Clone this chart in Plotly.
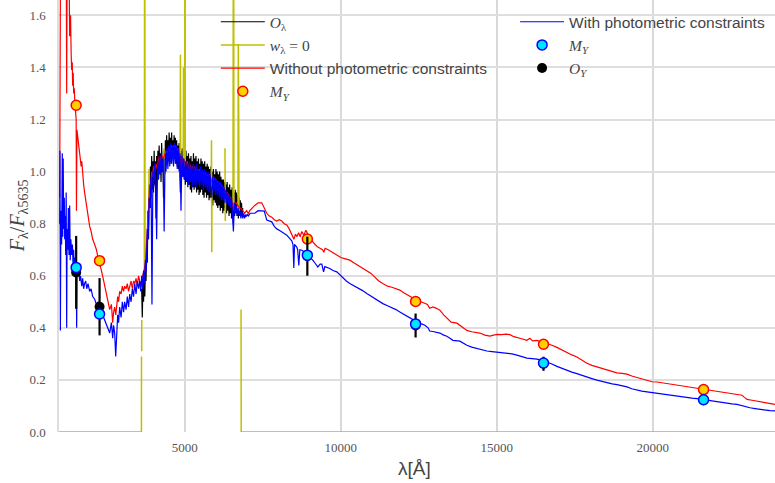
import plotly.graph_objects as go

# ---------------- data ----------------
# photometric bands: wavelength [A]
phot_wave = [1520, 2270, 8930, 12400, 16500, 21630]
# model photometry without constraints (red/orange dots)
my_red = [1.255, 0.658, 0.741, 0.501, 0.337, 0.163]
# model photometry with constraints (cyan dots)
my_cyan = [0.632, 0.453, 0.679, 0.415, 0.265, 0.124]
# observed photometry and errors
oy_flux = [0.613, 0.481, 0.675, 0.409, 0.262, 0.122]
oy_err = [0.14, 0.11, 0.075, 0.046, 0.027, 0.010]

# observed spectrum O_lambda (valid pixels), 20 A sampling from 3620 A
obs_start, obs_step = 3620, 20
obs_flux = [
    0.55, 0.44, 0.58, 0.50, 0.60, 0.52, 0.63, 0.58, 0.72, 0.65,
    0.85, 0.74, 0.95, 0.86, 1.02, 0.90, 1.06, 0.93, 1.04, 0.92,
    1.08, 0.95, 1.04, 0.82, 1.06, 0.96, 1.08, 0.97, 1.10, 0.99,
    1.07, 0.96, 1.11, 1.00, 1.05, 0.90, 1.08, 0.99, 1.12, 1.02,
    1.14, 1.03, 1.12, 1.04, 1.15, 1.05, 1.13, 1.03, 1.15, 1.05,
    1.12, 1.04, 1.14, 1.05, 1.13, 1.03, 1.12, 1.02, 1.10, 1.01,
    1.11, 1.00, 0.92, 1.08, 0.99, 1.09, 0.98, 1.07, 0.97, 1.06,
    0.95, 1.08, 0.96, 1.06, 0.94, 1.07, 0.95, 1.05, 0.93, 1.06,
    0.92, 1.04, 0.94, 1.07, 0.93, 1.05, 0.94, 1.06, 0.92, 1.04,
    0.93, 1.05, 0.91, 1.03, 0.92, 1.05, 0.93, 1.04, 0.91, 1.03,
    0.90, 1.04, 0.92, 1.02, 0.90, 1.03, 0.91, 1.02, 0.89, 1.01,
    0.90, 1.02, 0.88, 1.00, 0.87, 1.01, 0.89, 0.99, 0.88, 1.01,
    0.87, 1.00, 0.86, 0.99, 0.87, 1.00, 0.85, 0.98, 0.86, 0.97,
    0.84, 0.97, 0.85, 0.96, 0.86, 0.95, 0.84, 0.96, 0.85, 0.94,
    0.83, 0.95, 0.84, 0.93, 0.82, 0.94, 0.83, 0.80, 0.92, 0.83,
    0.93, 0.84, 0.92, 0.83, 0.91, 0.82, 0.90, 0.83, 0.89, 0.84,
    0.88, 0.83, 0.86,
]

# masked pixels w_lambda = 0 (None separates segments)
mask_wave = [970, 3612, 3614, None, 3620, 3622, None,
             3705, 3717, 3729, None, 3845, 3855, 3865, None,
             4325, 4336, 4347, None, 4850, 4862, 4874, None,
             4950, 4959, 4968, None, 4998, 5007, 5016, None,
             5850, 5858, 5866, 5874, None, 6290, 6300, 6310, None,
             6548, 6563, 6578, None, 6705, 6717, 6725, 6731, 6740, None,
             6805, 6810, 23930]
mask_flux = [0.0, 0.0, 0.29, None, 0.31, 0.43, None,
             0.60, 2.5, 0.62, None, 0.85, 1.01, 0.88, None,
             0.93, 1.09, 0.94, None, 1.00, 1.45, 1.00, None,
             1.00, 1.40, 1.00, None, 1.00, 2.5, 1.00, None,
             0.97, 1.12, 0.69, 0.95, None, 1.09, 0.81, 0.92, None,
             0.88, 2.5, 0.85, None, 0.85, 1.49, 0.95, 1.20, 0.84, None,
             0.47, 0.0, 0.0]

# model without photometric constraints (red)
red_pts = [
    (991, 0.90), (1000, 2.0), (1030, 2.2), (1100, 1.9), (1150, 2.1), (1180, 1.75),
    (1200, 1.95), (1216, 1.30), (1230, 1.85), (1260, 1.70), (1290, 1.80), (1312, 1.52),
    (1340, 1.60), (1360, 1.45), (1376, 1.39), (1395, 1.42), (1408, 1.33), (1425, 1.38),
    (1440, 1.30), (1460, 1.32), (1480, 1.26), (1500, 1.24), (1520, 1.20), (1530, 0.85),
    (1545, 1.16), (1575, 1.13), (1600, 1.10), (1620, 1.08), (1650, 1.06), (1680, 1.02),
    (1700, 1.04), (1729, 0.97), (1760, 0.95), (1790, 0.92), (1825, 0.89), (1860, 0.86),
    (1900, 0.82), (1953, 0.79), (2000, 0.77), (2050, 0.74), (2114, 0.72), (2170, 0.70),
    (2220, 0.67), (2274, 0.65), (2330, 0.62), (2402, 0.58), (2460, 0.55), (2531, 0.51),
    (2595, 0.47), (2650, 0.49), (2691, 0.42), (2720, 0.46), (2755, 0.48), (2790, 0.45),
    (2851, 0.52), (2880, 0.50), (2915, 0.54), (2960, 0.53), (3000, 0.56), (3040, 0.54),
    (3076, 0.56), (3120, 0.55), (3160, 0.57), (3200, 0.54), (3236, 0.56), (3280, 0.58),
    (3320, 0.55), (3360, 0.58), (3397, 0.57), (3440, 0.59), (3480, 0.56), (3520, 0.60),
    (3557, 0.58), (3600, 0.57), (3650, 0.60), (3700, 0.62), (3740, 0.65), (3780, 0.72),
    (3813, 0.80), (3850, 0.88), (3878, 0.95), (3910, 0.93), (3942, 1.00), (3970, 0.98),
    (4000, 1.02), (4038, 1.00), (4080, 1.03), (4120, 1.01), (4160, 1.05), (4198, 1.06),
    (4240, 1.04), (4280, 1.06), (4320, 1.05), (4359, 1.07), (4400, 1.08), (4440, 1.07),
    (4480, 1.09), (4519, 1.08), (4560, 1.10), (4600, 1.09), (4640, 1.10), (4679, 1.09),
    (4720, 1.10), (4760, 1.08), (4800, 1.09), (4840, 1.06), (4861, 0.98), (4880, 1.06),
    (4920, 1.04), (4960, 1.05), (5000, 1.03), (5040, 1.02), (5080, 1.04), (5120, 1.01),
    (5160, 1.03), (5200, 1.00), (5240, 1.02), (5280, 1.01), (5321, 1.02), (5360, 1.00),
    (5400, 1.01), (5440, 1.00), (5481, 1.01), (5520, 0.99), (5560, 1.00), (5600, 0.99),
    (5641, 1.00), (5680, 0.98), (5720, 0.99), (5760, 0.98), (5802, 0.99), (5850, 0.97),
    (5890, 0.95), (5930, 0.98), (5962, 0.97), (6000, 0.97), (6040, 0.96), (6080, 0.96),
    (6122, 0.95), (6160, 0.95), (6200, 0.94), (6240, 0.94), (6283, 0.93), (6320, 0.92),
    (6360, 0.92), (6400, 0.91), (6443, 0.90), (6480, 0.90), (6520, 0.88), (6563, 0.85),
    (6604, 0.88), (6650, 0.88), (6700, 0.87), (6764, 0.86), (6800, 0.86), (6850, 0.85),
    (6924, 0.84), (6980, 0.85), (7040, 0.84), (7085, 0.85), (7160, 0.86), (7245, 0.87),
    (7350, 0.88), (7469, 0.88), (7550, 0.86), (7630, 0.84), (7700, 0.83), (7790, 0.825),
    (7870, 0.815), (7950, 0.81), (8030, 0.815), (8111, 0.81), (8190, 0.80), (8271, 0.795),
    (8350, 0.78), (8431, 0.756), (8500, 0.74), (8550, 0.76), (8592, 0.75), (8650, 0.765),
    (8700, 0.75), (8752, 0.77), (8820, 0.755), (8880, 0.775), (8945, 0.76), (9020, 0.75),
    (9105, 0.73), (9180, 0.72), (9265, 0.71), (9350, 0.705), (9420, 0.70), (9460, 0.69),
    (9500, 0.705), (9600, 0.70), (9746, 0.69), (9874, 0.68), (10003, 0.67), (10150, 0.665),
    (10292, 0.66), (10420, 0.65), (10548, 0.64), (10700, 0.63), (10837, 0.62), (10960, 0.61),
    (11093, 0.595), (11220, 0.58), (11350, 0.57), (11500, 0.56), (11638, 0.556), (11770, 0.55),
    (11895, 0.545), (12020, 0.535), (12152, 0.525), (12300, 0.515), (12440, 0.506), (12570, 0.50),
    (12697, 0.494), (12780, 0.49), (12850, 0.475), (12953, 0.48), (13070, 0.475), (13178, 0.468),
    (13300, 0.45), (13450, 0.43), (13540, 0.422), (13723, 0.418), (13880, 0.405), (14044, 0.39),
    (14200, 0.385), (14461, 0.38), (14620, 0.372), (14781, 0.368), (14900, 0.372), (15006, 0.375),
    (15150, 0.374), (15300, 0.376), (15423, 0.374), (15550, 0.366), (15743, 0.36), (15900, 0.354),
    (15968, 0.352), (16064, 0.36), (16150, 0.35), (16289, 0.352), (16450, 0.346), (16609, 0.34),
    (16770, 0.333), (16930, 0.325), (17090, 0.315), (17251, 0.304), (17410, 0.296), (17571, 0.288),
    (17730, 0.276), (17892, 0.264), (18050, 0.256), (18213, 0.25), (18370, 0.244), (18534, 0.237),
    (18700, 0.232), (18854, 0.227), (19020, 0.225), (19175, 0.222), (19330, 0.215), (19496, 0.209),
    (19650, 0.203), (19817, 0.196), (19980, 0.193), (20138, 0.192), (20300, 0.189), (20458, 0.186),
    (20620, 0.183), (20779, 0.18), (20940, 0.176), (21100, 0.173), (21300, 0.17), (21516, 0.167),
    (21700, 0.163), (21837, 0.16), (22000, 0.157), (22158, 0.154), (22380, 0.151), (22575, 0.148),
    (22720, 0.145), (22864, 0.141), (22940, 0.133), (23024, 0.125), (23180, 0.122), (23344, 0.119),
    (23500, 0.115), (23664, 0.111), (23800, 0.108), (23921, 0.106),
]

# model with photometric constraints (blue): UV part
blue_uv_pts = [
    (991, 0.80), (1000, 1.08), (1015, 0.39), (1030, 0.85), (1055, 0.72), (1075, 1.07),
    (1090, 0.75), (1105, 1.05), (1120, 0.78), (1140, 0.90), (1152, 0.74), (1170, 0.83),
    (1184, 0.68), (1200, 0.92), (1216, 0.40), (1230, 0.78), (1250, 0.70), (1270, 0.86),
    (1290, 0.68), (1312, 0.87), (1330, 0.66), (1350, 0.74), (1376, 0.68), (1400, 0.72),
    (1420, 0.64), (1440, 0.70), (1460, 0.62), (1480, 0.67), (1504, 0.63), (1520, 0.66),
    (1536, 0.40), (1550, 0.62), (1570, 0.60), (1600, 0.63), (1633, 0.58), (1660, 0.60),
    (1700, 0.56), (1729, 0.59), (1760, 0.55), (1790, 0.57), (1825, 0.58), (1860, 0.55),
    (1900, 0.57), (1953, 0.54), (2000, 0.55), (2050, 0.52), (2114, 0.51), (2170, 0.49),
    (2220, 0.50), (2274, 0.47), (2330, 0.45), (2402, 0.44), (2460, 0.42), (2531, 0.40),
    (2595, 0.38), (2650, 0.42), (2691, 0.36), (2720, 0.41), (2755, 0.38), (2787, 0.29),
    (2820, 0.40), (2851, 0.45), (2880, 0.42), (2915, 0.48), (2960, 0.44), (3000, 0.50),
    (3040, 0.46), (3076, 0.50), (3120, 0.47), (3160, 0.52), (3200, 0.48), (3236, 0.53),
    (3280, 0.50), (3320, 0.55), (3360, 0.52), (3397, 0.57), (3440, 0.53), (3480, 0.58),
    (3520, 0.55), (3557, 0.58),
]
# blue optical part, 30 A sampling from 3590 A
blue_opt_start, blue_opt_step = 3590, 30
blue_opt_flux = [
    0.54, 0.60, 0.55, 0.62, 0.57, 0.66, 0.62, 0.78, 0.74, 0.90,
    0.86, 0.98, 0.49, 1.00, 0.94, 1.03, 0.96, 0.74, 1.03, 0.97,
    1.06, 0.99, 1.07, 1.00, 1.05, 0.77, 1.05, 1.00, 1.09, 1.01,
    1.10, 1.02, 1.11, 1.03, 1.10, 1.02, 1.11, 1.03, 1.10, 1.01,
    1.09, 1.00, 1.07, 0.85, 1.06, 0.98, 1.05, 0.97, 1.04, 0.96,
    1.03, 0.95, 1.04, 0.96, 1.02, 0.94, 1.03, 0.95, 1.02, 0.94,
    1.03, 0.95, 1.01, 0.94, 1.02, 0.95, 1.01, 0.93, 1.01, 0.94,
    1.00, 0.93, 1.00, 0.92, 0.99, 0.93, 0.90, 0.98, 0.92, 0.98,
    0.91, 0.97, 0.91, 0.96, 0.90, 0.96, 0.89, 0.95, 0.89, 0.94,
    0.88, 0.93, 0.88, 0.92, 0.87, 0.91, 0.86, 0.90, 0.85, 0.77,
    0.88, 0.84, 0.87, 0.83, 0.86, 0.83, 0.85, 0.82, 0.85, 0.82,
    0.84, 0.82, 0.835, 0.83, 0.835, 0.83, 0.835, 0.84, 0.84,
]
# blue near-IR part
blue_ir_pts = [
    (7245, 0.84), (7350, 0.85), (7469, 0.85), (7550, 0.848), (7630, 0.814), (7700, 0.81),
    (7790, 0.807), (7870, 0.79), (7950, 0.78), (8030, 0.775), (8111, 0.77), (8190, 0.762),
    (8271, 0.756), (8350, 0.745), (8431, 0.734), (8470, 0.72), (8496, 0.63), (8520, 0.72),
    (8560, 0.715), (8592, 0.71), (8620, 0.70), (8656, 0.64), (8690, 0.70), (8752, 0.698),
    (8850, 0.69), (8945, 0.68), (9020, 0.67), (9105, 0.66), (9180, 0.648), (9265, 0.634),
    (9340, 0.645), (9394, 0.645), (9450, 0.615), (9490, 0.635), (9650, 0.628), (9750, 0.62),
    (9874, 0.615), (10003, 0.60), (10067, 0.59), (10180, 0.58), (10292, 0.57), (10420, 0.562),
    (10548, 0.555), (10700, 0.543), (10837, 0.532), (10960, 0.522), (11093, 0.513), (11220, 0.503),
    (11350, 0.493), (11500, 0.485), (11638, 0.478), (11770, 0.47), (11895, 0.461), (12020, 0.452),
    (12152, 0.442), (12300, 0.432), (12440, 0.423), (12570, 0.416), (12697, 0.41), (12800, 0.40),
    (12850, 0.388), (12953, 0.386), (13070, 0.383), (13178, 0.38), (13300, 0.372), (13402, 0.368),
    (13500, 0.36), (13595, 0.352), (13819, 0.349), (13930, 0.34), (14044, 0.333), (14200, 0.326),
    (14364, 0.32), (14520, 0.315), (14685, 0.311), (14850, 0.309), (15006, 0.307), (15170, 0.306),
    (15327, 0.304), (15490, 0.30), (15647, 0.295), (15800, 0.29), (15968, 0.284), (16130, 0.282),
    (16289, 0.28), (16450, 0.275), (16609, 0.269), (16770, 0.261), (16930, 0.252), (17090, 0.244),
    (17251, 0.237), (17410, 0.23), (17571, 0.224), (17730, 0.217), (17892, 0.211), (18050, 0.205),
    (18213, 0.199), (18370, 0.194), (18534, 0.189), (18700, 0.185), (18854, 0.182), (19020, 0.178),
    (19175, 0.173), (19330, 0.166), (19496, 0.16), (19650, 0.157), (19817, 0.154), (19980, 0.151),
    (20138, 0.148), (20300, 0.146), (20458, 0.144), (20620, 0.14), (20779, 0.137), (20940, 0.134),
    (21100, 0.132), (21260, 0.13), (21420, 0.128), (21580, 0.125), (21741, 0.122), (21900, 0.118),
    (22062, 0.115), (22220, 0.113), (22383, 0.111), (22540, 0.108), (22703, 0.106), (22830, 0.102),
    (22960, 0.096), (23120, 0.093), (23280, 0.09), (23440, 0.087), (23600, 0.083), (23760, 0.082),
    (23921, 0.081),
]

# axis texts
x_ticks = [5000, 10000, 15000, 20000]
y_ticks = [0.0, 0.2, 0.4, 0.6, 0.8, 1.0, 1.2, 1.4, 1.6]

# ---------------- assemble ----------------
obs_wave = [obs_start + obs_step * i for i in range(len(obs_flux))]
red_wave = [p[0] for p in red_pts]
red_flux = [p[1] for p in red_pts]
blue_opt_wave = [blue_opt_start + blue_opt_step * i for i in range(len(blue_opt_flux))]
blue_wave = [p[0] for p in blue_uv_pts] + blue_opt_wave + [p[0] for p in blue_ir_pts]
blue_flux = [p[1] for p in blue_uv_pts] + blue_opt_flux + [p[1] for p in blue_ir_pts]

SERIF = "Liberation Serif"
SANS = "Liberation Sans"

def math(s):
    return '<span style="font-family:Liberation Serif">' + s + '</span>'

fig = go.Figure()

fig.add_trace(go.Scatter(x=obs_wave, y=obs_flux, mode="lines",
                         line=dict(color="black", width=1.2),
                         name=math("<i>O</i><sub>λ</sub>"), legend="legend"))
fig.add_trace(go.Scatter(x=mask_wave, y=mask_flux, mode="lines",
                         line=dict(color="#bfbf00", width=1.5), connectgaps=False,
                         name=math("<i>w</i><sub>λ</sub> = 0"), legend="legend"))
fig.add_trace(go.Scatter(x=red_wave, y=red_flux, mode="lines",
                         line=dict(color="#ff0000", width=1.2),
                         name="Without photometric constraints", legend="legend"))
fig.add_trace(go.Scatter(x=blue_wave, y=blue_flux, mode="lines",
                         line=dict(color="#0000ff", width=1.2),
                         name="With photometric constraints", legend="legend2",
                         legendrank=1))
fig.add_trace(go.Scatter(x=phot_wave, y=my_red, mode="markers",
                         marker=dict(color="#ffd000", size=10,
                                     line=dict(color="#ff0000", width=1.5)),
                         name=math("<i>M</i><sub><i>Y</i></sub>"), legend="legend"))
fig.add_trace(go.Scatter(x=phot_wave, y=oy_flux, mode="markers",
                         marker=dict(color="black", size=10),
                         error_y=dict(type="data", array=oy_err, color="black",
                                      thickness=2.2, width=0),
                         name=math("<i>O</i><sub><i>Y</i></sub>"), legend="legend2",
                         legendrank=3))
fig.add_trace(go.Scatter(x=phot_wave, y=my_cyan, mode="markers",
                         marker=dict(color="#00e5ff", size=10,
                                     line=dict(color="#0000ff", width=1.5)),
                         name=math("<i>M</i><sub><i>Y</i></sub>"), legend="legend2",
                         legendrank=2))

LEG_FONT = dict(family=SANS, size=15.5, color="#444")

fig.update_layout(
    width=775, height=483,
    margin=dict(l=59, r=0, t=0, b=51, autoexpand=False),
    paper_bgcolor="white", plot_bgcolor="white",
    font=dict(family=SANS, color="#444", size=14),
    legend=dict(x=0.219, y=0.988, xanchor="left", yanchor="top", itemwidth=44,
                bgcolor="rgba(255,255,255,0)", font=LEG_FONT, tracegroupgap=0),
    legend2=dict(x=0.637, y=0.988, xanchor="left", yanchor="top", itemwidth=44,
                 bgcolor="rgba(255,255,255,0)", font=LEG_FONT, tracegroupgap=0),
    xaxis=dict(range=[970, 23920], tickvals=x_ticks,
               ticktext=[str(v) for v in x_ticks], automargin=False,
               showgrid=True, gridcolor="#d9d9d9", gridwidth=1.5, zeroline=False,
               showline=False, ticks="", tickfont=dict(family=SERIF, size=13, color="#555"),
               ticklabelstandoff=6),
    yaxis=dict(range=[0, 1.659], tickvals=y_ticks, automargin=False,
               ticktext=["%.1f" % v for v in y_ticks],
               showgrid=True, gridcolor="#dedede", gridwidth=1.5, zeroline=False,
               showline=True, linecolor="#dedede", linewidth=1.5,
               ticks="", tickfont=dict(family=SERIF, size=13, color="#555"),
               ticklabelstandoff=9),
    annotations=[
        dict(text="λ[Å]", xref="paper", yref="paper", x=0.497, y=-0.084,
             xanchor="center", yanchor="middle", showarrow=False,
             font=dict(family=SANS, size=19, color="#444")),
        dict(text="<i>F</i><sub>λ</sub>/<i>F</i><sub>λ5635</sub>", xref="paper", yref="paper",
             x=-0.057, y=0.5, xanchor="center", yanchor="middle", textangle=-90,
             showarrow=False, font=dict(family=SERIF, size=20, color="#444")),
    ],
)

fig.write_html("out.html", config={"displayModeBar": False},
               post_script="document.body.style.margin='0px';document.body.style.padding='0px';")
